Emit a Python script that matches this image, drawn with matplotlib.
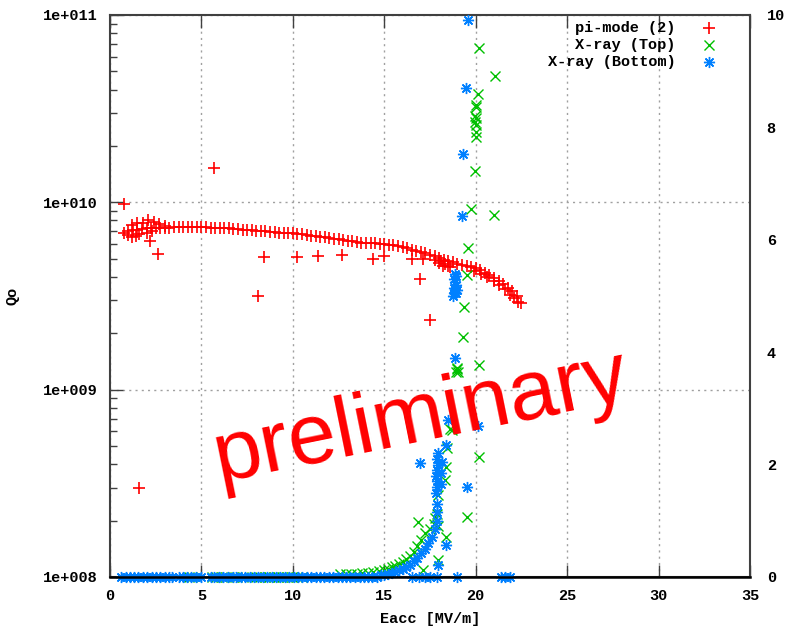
import numpy as np
import matplotlib
matplotlib.use("Agg")
import matplotlib.pyplot as plt

# pi-mode (2): Eacc [MV/m] and Qo (in units of 1e9)
pi_x = [0.75, 1.0, 1.25, 1.5, 1.75, 2.0, 2.25, 2.5, 2.75, 3.0, 3.25, 3.5, 3.75, 4.0,
        4.25, 4.5, 4.75, 5.0, 5.25, 5.5, 5.75, 6.0, 6.25, 6.5, 6.75, 7.0, 7.25, 7.5,
        7.75, 8.0, 8.25, 8.5, 8.75, 9.0, 9.25, 9.5, 9.75, 10.0, 10.25, 10.5, 10.75,
        11.0, 11.25, 11.5, 11.75, 12.0, 12.25, 12.5, 12.75, 13.0, 13.25, 13.5, 13.75,
        14.0, 14.25, 14.5, 14.75, 15.0, 15.25, 15.5, 15.75, 16.0, 16.25, 16.5, 16.75,
        17.0, 17.25, 17.5, 17.75, 18.0, 18.25, 18.5, 18.75, 19.0, 19.25, 19.5, 19.75,
        20.0, 20.25, 20.5, 20.75, 21.0, 21.25, 21.5, 21.75, 22.0, 22.25, 22.5,
        # band thickening near the end
        17.8, 18.0, 18.1, 18.2, 18.3, 18.5, 18.6, 19.9, 20.3, 20.6, 21.0, 21.3, 21.6,
        21.9, 22.1, 22.3,
        # loop at low field
        1.2, 1.5, 1.8, 2.1, 2.4, 2.7, 3.0, 1.0, 1.2, 1.4, 1.6, 2.0, 2.3,
        # outliers
        0.75, 5.7, 1.6, 2.2, 2.6, 8.1, 8.4, 10.2, 11.4, 12.7, 14.4, 15.0, 16.5, 17.1,
        16.95, 17.5]
pi_q = [6.9, 7.0, 7.1, 7.15, 7.2, 7.25, 7.3, 7.3, 7.3, 7.3, 7.3, 7.35, 7.35, 7.35,
        7.35, 7.35, 7.35, 7.35, 7.35, 7.3, 7.3, 7.3, 7.25, 7.25, 7.2, 7.2, 7.15, 7.1,
        7.1, 7.05, 7.0, 7.0, 6.95, 6.95, 6.9, 6.9, 6.9, 6.85, 6.8, 6.75, 6.7,
        6.65, 6.6, 6.55, 6.5, 6.45, 6.4, 6.35, 6.3, 6.25, 6.2, 6.15, 6.1,
        6.1, 6.05, 6.05, 6.0, 6.0, 5.95, 5.9, 5.85, 5.75, 5.7, 5.6, 5.5,
        5.4, 5.35, 5.25, 5.15, 5.05, 4.95, 4.85, 4.8, 4.7, 4.65, 4.55, 4.5,
        4.45, 4.35, 4.2, 4.1, 3.95, 3.8, 3.65, 3.5, 3.35, 3.15, 2.9,
        4.9, 4.75, 4.85, 4.6, 4.7, 4.6, 4.5, 4.3, 4.15, 4.0, 3.8, 3.6, 3.45,
        3.2, 3.1, 2.95,
        7.6, 7.8, 7.8, 8.0, 7.9, 7.7, 7.5, 6.7, 6.5, 6.6, 6.8, 6.9, 7.0,
        9.8, 15.2, 0.30, 6.2, 5.3, 3.15, 5.1, 5.1, 5.2, 5.25, 5.0, 5.2, 5.0, 5.0,
        3.9, 2.35]

# X-ray (Top), right axis
top_x = [4.3, 4.5, 5.6, 5.8, 6.1, 6.35, 6.7, 6.95, 7.25, 8.0, 8.2, 8.45, 8.7, 8.95,
         9.2, 9.4, 9.7, 9.95, 10.2, 10.5,
         12.6, 12.9, 13.2, 13.5, 13.8, 14.1, 14.4, 14.7, 15.0, 15.2, 15.4, 15.6, 15.8,
         16.0, 16.2, 16.4, 16.6, 16.8, 17.0, 17.2, 16.85, 17.5, 17.7, 17.8, 17.9,
         17.95, 18.4, 17.95, 17.1,
         17.95, 18.3, 18.4, 18.45, 18.6, 18.7, 18.9, 19.0, 19.05, 18.95, 19.3, 19.35,
         19.5, 19.6, 19.75, 19.95, 20.0, 20.0, 20.0, 19.95, 20.0, 20.0, 20.0, 19.95,
         20.1, 20.2, 21.05, 21.0, 20.2, 20.2, 19.5]
top_v = [0, 0, 0, 0, 0, 0, 0, 0, 0, 0, 0, 0, 0, 0,
         0, 0, 0, 0, 0, 0,
         0.05, 0.05, 0.06, 0.06, 0.07, 0.08, 0.09, 0.11, 0.13, 0.15, 0.17, 0.2, 0.23,
         0.27, 0.32, 0.38, 0.45, 0.55, 0.66, 0.78, 0.98, 0.85, 0.95, 1.05, 1.12,
         0.9, 0.71, 0.3, 0.12,
         1.46, 1.73, 1.96, 2.3, 2.63, 2.62, 3.65, 3.7, 3.65, 3.72, 4.27, 4.8,
         5.37, 5.85, 6.55, 7.22, 7.83, 7.92, 8.04, 8.1, 8.17, 8.36, 8.4, 8.2,
         8.59, 9.41, 8.91, 6.44, 3.77, 2.14, 1.07]

# X-ray (Bottom), right axis
bot_x = [0.6, 0.85, 1.1, 1.3, 1.55, 1.8, 2.05, 2.3, 2.5, 2.75, 3.0, 3.2, 3.4, 3.8,
         4.0, 4.2, 4.45, 4.7, 4.95, 5.5, 5.7, 5.95, 6.2, 6.45, 6.7, 6.9, 7.15, 7.4,
         7.65, 7.9, 8.1, 8.35, 8.6, 8.85, 9.1, 9.3, 9.55, 9.8, 10.05, 10.3, 10.5,
         10.75, 11.0, 11.25, 11.5, 11.7, 11.95, 12.2, 12.45, 12.7, 12.9, 13.15, 13.4,
         13.65, 13.9, 14.1, 14.35, 14.6,
         14.8, 15.0, 15.2, 15.4, 15.6, 15.8, 16.0, 16.2, 16.4, 16.6, 16.8, 17.0, 17.2,
         17.4, 17.6, 17.8, 17.9, 17.9, 17.9, 17.85, 17.9, 17.9, 17.85, 17.9, 17.95,
         17.9, 17.95, 18.1, 18.1, 18.15,
         16.5, 16.9, 17.2, 17.5, 17.9, 18.95, 21.4, 21.6, 21.85,
         18.4, 17.95, 16.95, 18.4, 18.5, 18.85, 20.1, 19.5,
         18.75, 18.8, 18.85, 18.8, 18.9, 18.85, 18.8, 18.9, 18.85, 18.9, 19.0,
         19.25, 19.3, 19.46, 19.57]
bot_v = [0, 0, 0, 0, 0, 0, 0, 0, 0, 0, 0, 0, 0, 0,
         0, 0, 0, 0, 0, 0, 0, 0, 0, 0, 0, 0, 0, 0,
         0, 0, 0, 0, 0, 0, 0, 0, 0, 0, 0, 0, 0,
         0, 0, 0, 0, 0, 0, 0, 0, 0, 0, 0, 0,
         0, 0, 0, 0, 0,
         0.03, 0.04, 0.05, 0.07, 0.09, 0.12, 0.15, 0.18, 0.22, 0.28, 0.34, 0.42, 0.5,
         0.6, 0.72, 0.86, 1.0, 1.15, 1.3, 1.5, 1.6, 1.7, 1.8, 1.9, 2.0,
         2.1, 2.2, 1.65, 1.85, 2.05,
         0, 0, 0, 0, 0, 0, 0, 0, 0,
         0.57, 0.21, 2.03, 2.35, 2.79, 3.9, 2.69, 1.6,
         5.0, 5.05, 5.1, 5.15, 5.2, 5.25, 5.3, 5.35, 5.4, 5.05, 5.1,
         6.42, 7.53, 8.7, 9.91]

x_ticks = [0, 5, 10, 15, 20, 25, 30, 35]
q_ticks = [1e8, 1e9, 1e10, 1e11]
q_labels = ["1e+008", "1e+009", "1e+010", "1e+011"]
y2_ticks = [0, 2, 4, 6, 8, 10]

RED = "#ff0000"
GREEN = "#00c000"
BLUE = "#0080ff"
BORDER = "#404040"
mono = "Liberation Mono"

fig = plt.figure(figsize=(7.87, 6.30), dpi=100)
ax = fig.add_axes([110 / 787, 53 / 630, 640 / 787, 562 / 630])
ax.set_yscale("log")
ax.set_xlim(0, 35)
ax.set_ylim(1e8, 1e11)

ax.grid(True, which="major", color="#a0a0a0", linestyle=(0, (1.5, 3)), linewidth=1)
ax.set_axisbelow(True)

ax.plot(pi_x, np.array(pi_q) * 1e9, linestyle="none", marker="+", markersize=8,
        markeredgewidth=1.2, color=RED, zorder=3)

ax.set_xticks(x_ticks)
ax.set_xticklabels([str(v) for v in x_ticks], fontfamily=mono, fontweight="bold", fontsize=11)
ax.set_yticks(q_ticks)
ax.set_yticklabels(q_labels, fontfamily=mono, fontweight="bold", fontsize=11)
ax.tick_params(axis="both", which="major", direction="in", length=9, width=1,
               color=BORDER, top=True, right=True, pad=9)
ax.tick_params(axis="y", which="minor", direction="in", length=5, width=1,
               color=BORDER, right=True)
ax.tick_params(axis="x", which="minor", bottom=False, top=False)
for s in ax.spines.values():
    s.set_color(BORDER)
    s.set_linewidth(1.5)

ax.set_xlabel("Eacc [MV/m]", fontfamily=mono, fontweight="bold", fontsize=11, labelpad=6)
ax.set_ylabel("Qo", fontfamily=mono, fontweight="bold", fontsize=11)
ax.yaxis.set_label_coords(-0.142, 0.5)

ax2 = ax.twinx()
ax2.set_ylim(0, 10)
ax2.set_yticks(y2_ticks)
ax2.set_yticklabels([str(v) for v in y2_ticks], fontfamily=mono, fontweight="bold", fontsize=11)
ax2.tick_params(axis="y", length=0, pad=12)
for s in ax2.spines.values():
    s.set_visible(False)

ax2.plot(top_x, top_v, linestyle="none", marker="x", markersize=7,
         markeredgewidth=1.0, color=GREEN, clip_on=False, zorder=3)
ax2.plot(bot_x, bot_v, linestyle="none", marker=(8, 2, 0), markersize=8,
         markeredgewidth=1.0, color=BLUE, clip_on=False, zorder=3)
ax2.axhline(0, color="black", linewidth=1.8, zorder=5, clip_on=False)

# legend
rows = [("pi-mode (2)", "+", RED, 8, 1.2),
        ("X-ray (Top)", "x", GREEN, 7, 1.0),
        ("X-ray (Bottom)", (8, 2, 0), BLUE, 8, 1.0)]
for i, (lab, mk, col, ms, mew) in enumerate(rows):
    yy = 0.977 - i * 0.0305
    ax2.text(0.884, yy, lab, transform=ax2.transAxes, ha="right", va="center",
             fontfamily=mono, fontweight="bold", fontsize=11)
    ax2.plot([0.936], [yy], transform=ax2.transAxes, marker=mk, markersize=ms,
             markeredgewidth=mew, color=col, linestyle="none")

fig.text(421 / 787, 1 - 418 / 630, "preliminary", color=RED, fontsize=62,
         fontfamily="Liberation Sans", rotation=11.5, ha="center", va="center",
         rotation_mode="anchor")

fig.savefig("out.png", dpi=100, facecolor="white")
